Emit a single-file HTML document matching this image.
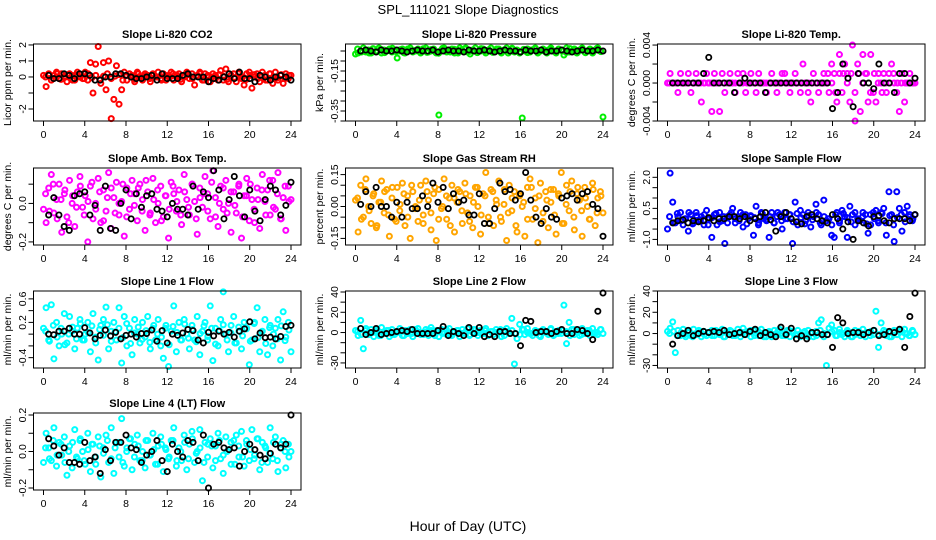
<!DOCTYPE html>
<html><head><meta charset="utf-8">
<style>
body{margin:0;background:#fff;width:936px;height:540px;overflow:hidden}
svg{display:block;font-family:"Liberation Sans",sans-serif}
</style></head>
<body>
<svg id="chart" width="936" height="540" xmlns="http://www.w3.org/2000/svg">
<text x="468" y="14" text-anchor="middle" font-size="13">SPL_111021  Slope Diagnostics</text>
<text x="468" y="531" text-anchor="middle" font-size="14">Hour of Day (UTC)</text>
</svg>
<script>
const xTicks=[0,4,8,12,16,20,24];
const titles=["Slope Li-820 CO2","Slope Li-820 Pressure","Slope Li-820 Temp.","Slope Amb. Box Temp.","Slope Gas Stream RH","Slope Sample Flow","Slope Line 1 Flow","Slope Line 2 Flow","Slope Line 3 Flow","Slope Line 4 (LT) Flow"];
const yTitles=["Licor ppm per min.","kPa per min.","degrees C per min.","degrees C per min.","percent per min.","ml/min per min.","ml/min per min.","ml/min per min.","ml/min per min.","ml/min per min."];
const colors=["#ff0000","#00ee00","#ff00ff","#ff00ff","#ffa500","#0000ff","#00ffff","#00ffff","#00ffff","#00ffff"];
const yTickVals=[[-2,-1,0,1,2],[-0.4,-0.35,-0.3,-0.25,-0.2,-0.15,-0.1,-0.05],[-0.004,-0.002,0,0.002,0.004],[-0.2,-0.1,0,0.1],[-0.15,-0.1,-0.05,0,0.05,0.1,0.15],[-1,-0.5,0,0.5,1,1.5,2],[-0.4,-0.2,0,0.2,0.4,0.6],[-30,-20,-10,0,10,20,30,40],[-30,-20,-10,0,10,20,30,40],[-0.2,-0.1,0,0.1,0.2]];
const yTickLabels=[["-2","","0","1","2"],["","-0.35","","","","-0.15","",""],["-0.004","","0.000","","0.004"],["-0.2","","0.0",""],["-0.15","","","0.00","","","0.15"],["-1.0","","","0.5","","","2.0"],["-0.4","","","0.2","","0.6"],["-30","","","0","","20","","40"],["-30","","","0","","20","","40"],["-0.2","","0.0","","0.2"]];
const yDomains=[[-2.75,2.06],[-0.40,-0.015],[-0.004,0.00411],[-0.216,0.184],[-0.181,0.181],[-1.27,2.45],[-0.576,0.734],[-35,41],[-32.4,40],[-0.211,0.211]];

const c1=[0.1,-0.6,0.2,-0.2,0.1,0.3,-0.1,0.2,0.0,-0.3,0.2,0.1,-0.2,0.3,0.0,-0.1,0.3,-0.2,0.9,-1.0,0.8,1.9,-0.4,0.9,-0.8,1.0,-2.6,-1.4,0.7,-1.7,-0.8,0.3,-0.2,0.2,0.1,-0.3,0.3,0.0,-0.2,0.2,0.1,-0.3,0.2,0.0,0.3,-0.1,0.2,-0.2,0.1,0.3,-0.2,0.0,0.2,-0.3,0.1,0.3,-0.1,0.2,-0.5,0.1,0.3,-0.2,0.2,0.0,-0.3,0.2,0.1,-0.2,0.4,-0.2,0.5,-0.3,0.1,0.2,-0.3,0.3,-0.1,-0.5,0.2,0.3,-0.7,0.0,0.2,-0.3,0.3,0.1,-0.2,0.2,-0.4,0.3,-0.2,0.1,-0.4,0.2,-0.1,0.1];
const d1=[0.0,0.15,-0.1,0.2,-0.15,0.05,0.1,-0.2,0.15,0.0,-0.1,0.2,-0.05,0.1,-0.15,0.05,0.2,-0.1,0.05,0.15,-0.2,0.1,0.0,-0.15,0.2,-0.05,0.1,-0.1,0.15,0.0,-0.2,0.1,-0.05,0.2,0.1,-0.15,0.0,0.15,-0.1,0.05,0.2,-0.2,0.1,0.0,-0.1,0.15,0.05,-0.15,0.1,-0.05,0.2,0.0,-0.15,0.1,0.15,-0.1,0.05,-0.2,0.2,0.0,-0.05,0.15,-0.1,0.1];
const b1=[0.1,-0.1,-0.1,0.2,0.1,-0.1,0.2,0.2,0.1,-0.2,-0.2,0.0,0.0,0.2,0.2,0.1,0.0,-0.1,-0.1,0.0,0.1,-0.2,0.2,-0.1,-0.1,-0.1,0.1,0.2,0.0,0.0,0.0,-0.3,-0.1,-0.2,0.0,0.2,-0.1,0.3,-0.1,-0.1,-0.3,0.1,0.0,-0.2,0.0,0.1,0.0,-0.2];
const c2=[-0.065,-0.06,-0.05,-0.035,-0.055,-0.045,-0.06,-0.04,-0.05,-0.035,-0.06,-0.045,-0.05,-0.04,-0.055,-0.045,-0.085,-0.05,-0.04,-0.06,-0.045,-0.035,-0.055,-0.05,-0.04,-0.06,-0.045,-0.035,-0.055,-0.05,-0.04,-0.06,-0.37,-0.045,-0.035,-0.055,-0.05,-0.04,-0.06,-0.045,-0.035,-0.05,-0.04,-0.055,-0.065,-0.045,-0.035,-0.055,-0.05,-0.04,-0.06,-0.045,-0.035,-0.055,-0.05,-0.04,-0.06,-0.045,-0.035,-0.05,-0.04,-0.055,-0.045,-0.06,-0.385,-0.05,-0.04,-0.055,-0.045,-0.035,-0.06,-0.05,-0.04,-0.055,-0.045,-0.035,-0.05,-0.06,-0.04,-0.045,-0.07,-0.035,-0.055,-0.05,-0.04,-0.06,-0.045,-0.035,-0.055,-0.05,-0.04,-0.06,-0.045,-0.035,-0.05,-0.38];
const d2=[-0.04,-0.055,-0.045,-0.06,-0.038,-0.05,-0.042,-0.058,-0.047,-0.036,-0.053,-0.044,-0.059,-0.04,-0.05,-0.046,-0.052,-0.039,-0.057,-0.043,-0.05,-0.061,-0.037,-0.048,-0.055,-0.041,-0.06,-0.045,-0.035,-0.052,-0.047,-0.058,-0.038,-0.05,-0.044,-0.057,-0.04,-0.053,-0.046,-0.06,-0.036,-0.049,-0.055,-0.042,-0.058,-0.045,-0.037,-0.052,-0.048,-0.06,-0.04,-0.054,-0.043,-0.05,-0.057,-0.038,-0.047,-0.055,-0.041,-0.059,-0.044,-0.05,-0.036,-0.053];
const b2=[-0.05,-0.045,-0.05,-0.055,-0.045,-0.05,-0.05,-0.045,-0.05,-0.055,-0.05,-0.045,-0.05,-0.05,-0.045,-0.055,-0.05,-0.045,-0.05,-0.05,-0.055,-0.045,-0.05,-0.05,-0.045,-0.05,-0.055,-0.05,-0.045,-0.05,-0.05,-0.055,-0.045,-0.05,-0.05,-0.045,-0.055,-0.05,-0.05,-0.045,-0.05,-0.055,-0.05,-0.045,-0.05,-0.05,-0.045,-0.05];
const c3=[0,0.001,0,0,-0.001,0.001,0,0,0.001,-0.001,0,0.001,0,-0.002,0,0.001,0,-0.003,0.001,0,-0.003,0.001,-0.001,0,0.001,0,-0.001,0.001,0,0.001,-0.001,0,0.001,0,-0.001,0.001,0,0,-0.001,0,0.001,0,-0.001,0,0.001,0.001,0,-0.001,0,0.001,0,-0.001,0.002,0,-0.001,-0.002,0.001,0,-0.001,0,0.001,0,-0.001,0.002,0.001,-0.002,0.003,-0.001,0.002,0.001,-0.002,0.004,-0.004,0.002,-0.003,0.003,0.001,-0.002,0.003,-0.001,-0.002,0.001,0,0.001,-0.001,0.001,0.002,0,-0.001,-0.003,0.001,-0.002,0,0.001,0,0];
const d3=[0,0,0,0,0,0,0,0,0,0,0,0,0,0,0,0,0,0,0,0,0,0,0,0,0,0,0,0,0,0,0,0,0,0,0,0,0,0,0,0,0,0.001,0,-0.001,0.001,0.001,0,0.001,-0.001,0.001,0,0.001,-0.001,0.001,0,-0.001,0,0,0.001,0,0,0,0,0];
const b3=[0,0,0,0,0,0,0.001,0.0027,0,0,0,0,-0.001,0,0.0005,0,0,0,-0.001,0,0,0,0,0,0,0,0,0,0,0,0,-0.0027,-0.001,0.002,0.0005,-0.0025,0.001,0,0,-0.0006,0.002,0,0,-0.001,0.001,0.001,0,0.0005];
const c4=[-0.03,-0.1,0.08,0.15,-0.05,0.02,0.1,-0.15,0.05,-0.07,0.12,0.0,-0.12,0.06,0.14,-0.02,0.04,-0.2,0.09,-0.08,0.0,0.13,-0.1,0.07,-0.04,0.16,-0.13,0.03,0.11,-0.06,0.01,-0.17,0.08,-0.03,0.12,0.05,-0.09,0.1,0.02,-0.14,0.06,-0.05,0.13,-0.1,0.0,0.09,-0.07,0.04,-0.18,0.11,0.05,-0.04,0.07,-0.11,0.15,0.02,-0.06,0.1,0.01,-0.16,0.08,-0.02,0.14,0.05,-0.08,0.17,0.03,-0.12,0.09,-0.03,0.12,0.0,-0.15,0.06,-0.05,0.1,-0.18,0.04,0.13,-0.09,0.02,-0.1,0.08,-0.13,0.15,0.01,0.07,-0.06,0.12,-0.03,0.16,-0.08,0.03,-0.14,0.09,0.02];
const d4=[0.05,-0.04,0.1,-0.08,0.02,0.07,-0.1,0.04,-0.02,0.09,-0.06,0.01,0.11,-0.03,0.06,-0.09,0.03,0.08,-0.05,0.0,0.1,-0.07,0.05,-0.01,0.08,-0.04,0.12,-0.06,0.02,0.07,-0.09,0.04,-0.03,0.09,0.01,-0.06,0.06,-0.02,0.1,-0.08,0.03,0.05,-0.04,0.11,-0.07,0.0,0.08,-0.05,0.06,-0.01,0.09,-0.07,0.04,0.1,-0.03,0.02,0.07,-0.06,0.12,-0.02,0.05,-0.08,0.09,0.01];
const b4=[-0.06,0.03,-0.06,-0.12,-0.14,0.04,0.05,0.06,-0.06,-0.01,-0.14,0.09,-0.13,-0.14,0.0,0.07,-0.08,0.05,-0.02,0.04,0.05,-0.03,-0.04,-0.07,0.0,-0.03,-0.03,-0.06,0.09,-0.03,0.06,0.03,0.17,0.07,-0.08,0.02,0.14,0.04,-0.07,0.07,-0.04,-0.09,0.02,0.09,0.07,-0.06,-0.01,0.11];
const c5=[0.03,-0.12,0.1,-0.05,0.13,0.0,-0.08,0.06,-0.1,0.02,0.12,-0.03,0.08,-0.14,0.04,-0.06,0.09,-0.02,0.11,-0.09,0.05,-0.15,0.07,0.0,-0.07,0.1,-0.04,0.12,0.03,-0.11,0.06,-0.16,0.08,-0.01,0.13,-0.06,0.04,0.1,-0.12,0.02,0.07,-0.08,0.11,-0.03,0.05,-0.1,0.09,0.0,-0.13,0.06,0.16,-0.05,0.08,-0.09,0.03,0.12,-0.07,0.01,-0.16,0.1,-0.02,0.07,-0.12,0.05,0.0,-0.14,0.09,0.13,-0.06,0.04,-0.17,0.11,-0.03,0.07,-0.1,0.02,0.08,-0.13,0.05,0.16,-0.08,0.1,-0.02,0.12,-0.11,0.06,0.03,-0.14,0.09,0.0,-0.06,0.11,-0.09,0.04,0.07,-0.03];
const d5=[0.04,-0.06,0.08,-0.02,0.05,-0.09,0.02,0.07,-0.04,0.09,-0.07,0.01,0.06,-0.05,0.1,-0.01,0.03,-0.08,0.07,-0.03,0.09,-0.06,0.0,0.05,-0.09,0.04,0.08,-0.02,0.06,-0.07,0.02,0.09,-0.04,0.05,-0.08,0.07,0.01,-0.05,0.08,-0.03,0.04,-0.09,0.06,0.02,-0.06,0.09,-0.01,0.05,-0.07,0.03,0.08,-0.04,0.06,-0.08,0.01,0.07,-0.05,0.09,-0.02,0.04,-0.06,0.08,-0.03,0.05];
const b5=[0.01,0.07,0.0,0.09,0.0,0.0,-0.05,0.02,-0.05,0.02,-0.01,-0.01,0.05,0.0,0.11,0.02,0.09,-0.01,0.06,0.02,0.03,-0.04,-0.04,0.06,-0.08,-0.08,-0.01,0.11,0.07,0.08,0.03,0.06,0.16,0.03,-0.05,-0.08,-0.01,-0.05,-0.06,0.04,0.05,0.06,0.03,0.06,0.07,0.01,-0.01,-0.14];
const c6=[-0.5,2.2,0.8,-0.2,0.1,0.3,-0.3,0.0,-0.6,0.2,-0.2,0.3,-0.1,0.1,-0.3,0.4,0.0,-0.9,0.2,-0.3,0.3,-0.1,-1.2,0.1,0.2,0.5,-0.2,0.1,0.3,-0.4,0.2,0.0,0.1,-0.8,0.6,-0.2,0.3,0.0,-0.1,-0.9,0.3,-0.2,0.1,0.2,-0.5,0.3,0.0,0.2,-1.2,0.8,-0.3,0.4,0.2,-0.1,0.3,-0.4,0.1,0.7,0.2,-0.3,0.9,-0.1,0.0,-0.8,-0.9,0.3,-0.2,0.4,0.1,-0.9,0.6,0.2,-0.3,0.0,-0.1,0.3,0.2,-0.7,-0.3,0.3,0.4,-0.2,0.3,0.5,-0.8,1.3,0.2,-1.1,1.3,0.5,-0.6,0.3,0.6,0.2,-0.1,0.2];
const d6=[0.1,-0.2,0.25,-0.1,0.0,0.3,-0.25,0.15,-0.05,0.2,-0.3,0.05,0.25,-0.15,0.1,-0.2,0.3,0.0,-0.1,0.2,-0.25,0.15,0.05,-0.3,0.25,-0.05,0.1,-0.2,0.3,-0.1,0.0,0.2,-0.15,0.25,0.05,-0.25,0.15,-0.05,0.3,-0.2,0.1,0.0,-0.3,0.2,-0.1,0.25,0.05,-0.15,0.3,-0.05,0.1,-0.25,0.2,0.0,-0.1,0.25,-0.2,0.15,-0.3,0.05,0.2,-0.15,0.1,0.0];
const b6=[-0.2,-0.1,-0.05,-0.2,-0.1,-0.15,-0.1,0.05,-0.1,0.0,0.0,0.1,0.1,0.0,0.1,-0.1,0.0,0.1,0.3,-0.05,-0.6,0.1,0.3,0.0,-0.15,-0.25,0.1,0.2,0.0,-0.1,-0.2,0.2,0.0,-0.5,-0.15,-1.0,-0.1,-0.2,-0.35,0.1,0.15,-0.1,-0.2,0.0,0.0,0.0,-0.1,0.2];
const c7=[0.1,0.45,-0.1,0.5,-0.42,0.2,-0.2,0.0,0.35,-0.15,0.3,0.05,-0.25,0.1,0.25,-0.1,0.0,0.2,-0.3,0.35,-0.05,-0.44,0.15,0.25,0.46,-0.25,0.05,0.2,-0.1,0.45,-0.49,0.3,-0.2,0.1,-0.35,0.25,0.0,-0.15,0.2,-0.05,0.3,-0.25,0.1,-0.1,0.25,-0.2,-0.41,0.15,-0.55,0.05,0.48,-0.3,0.2,-0.1,0.25,0.0,-0.25,0.15,-0.1,0.3,-0.35,0.05,0.2,-0.1,0.48,-0.45,0.1,-0.2,0.25,0.72,0.0,-0.3,0.15,0.3,-0.15,0.05,-0.25,0.2,0.1,-0.52,-0.1,0.2,0.45,-0.3,0.05,0.25,-0.35,0.15,-0.2,0.1,0.25,-0.44,0.38,-0.05,0.2,-0.3];
const d7=[0.05,-0.12,0.15,-0.05,0.1,-0.18,0.0,0.12,-0.08,0.18,-0.1,0.03,0.14,-0.15,0.08,-0.02,0.16,-0.12,0.04,0.1,-0.06,0.18,-0.16,0.02,0.12,-0.09,0.06,-0.14,0.15,0.0,-0.05,0.1,-0.18,0.13,0.03,-0.1,0.17,-0.07,0.08,-0.13,0.01,0.14,-0.04,0.1,-0.17,0.06,0.16,-0.1,0.02,-0.15,0.12,-0.03,0.09,-0.12,0.18,-0.06,0.04,-0.16,0.11,0.0,-0.08,0.14,-0.11,0.07];
const b7=[0.0,-0.01,0.05,0.05,0.1,0.0,0.0,0.11,0.02,-0.08,-0.02,0.07,-0.03,0.03,-0.08,-0.02,0.0,-0.05,0.01,0.01,0.07,-0.12,0.06,-0.15,0.0,-0.02,0.02,0.08,0.06,-0.1,-0.15,0.03,-0.03,0.05,0.0,0.03,-0.05,0.05,0.09,0.21,-0.08,0.02,-0.06,-0.05,-0.08,-0.04,0.13,0.15];
const c8=[2,-3,12,-16,4,-2,3,-4,1,-3,5,-1,2,-4,3,-2,0,4,-3,2,-1,3,-4,1,4,-2,0,3,-3,5,-1,2,-4,3,0,-2,4,-3,1,2,-4,3,-1,4,-2,0,3,-3,2,-1,4,-3,1,-2,3,0,-4,2,4,-1,14,-31,-6,8,3,-2,4,-1,-3,2,1,-4,3,0,-2,4,-3,1,2,-1,27,-11,10,3,-2,1,-3,4,-1,2,-3,4,0,-2,3,-1];
const d8=[1,-2,2,-1,0,3,-3,1,2,-2,0,1,-3,2,-1,3,0,-2,1,2,-3,1,-1,3,-2,0,2,-1,1,-3,3,0,-1,2,-2,1,0,3,-3,1,2,-1,-2,3,0,-1,2,-3,1,0,3,-2,-1,2,1,-3,3,0,-2,1,2,-1,0,3];
const b8=[4,-2,0,4,-2,-1,0,1,2,1,3,-1,-1,-1,-1,2,6,-3,1,-1,-3,5,-1,5,-4,-2,-4,1,1,-1,-1,-13,12,11,0,1,1,-1,1,3,-1,-1,3,2,-1,-7,21,39];
const c9=[2,5,11,-18,3,-2,4,-3,1,-2,4,-1,3,-3,2,-2,1,3,-2,2,-1,4,-3,1,3,-2,0,4,-3,5,-1,2,-3,3,0,-2,4,-3,1,2,-3,3,-1,4,-2,0,3,-3,2,-1,3,-3,1,-2,3,0,-3,2,10,13,-3,-30,5,8,3,-2,4,-1,-3,2,1,-3,3,0,-2,4,-3,1,2,-1,21,-13,10,3,-2,1,-3,3,-1,2,-3,4,0,-2,3,-1];
const d9=[0,2,-2,1,-1,3,-3,0,2,-1,1,-2,3,0,-3,1,2,-2,0,1,-1,3,-2,2,0,-3,1,-1,2,0,-2,3,1,-1,0,2,-3,1,-2,3,0,-1,2,-2,1,0,3,-3,-1,2,0,1,-2,3,-1,0,2,-3,1,-1,3,0,-2,2];
const b9=[-10,-2,0,3,-2,0,2,1,2,1,3,-1,0,1,-1,2,4,-2,1,-1,-3,6,-1,5,-5,-2,-5,1,1,-1,-1,-13,15,10,0,1,1,-1,1,3,-2,-1,2,1,4,-13,16,38];
const c10=[-0.06,0.1,0.02,-0.05,0.13,-0.08,0.05,-0.02,0.08,-0.13,0.03,-0.09,0.12,-0.04,0.06,0.0,-0.07,0.1,-0.11,0.04,-0.03,0.08,-0.14,0.02,0.09,-0.06,0.13,-0.12,0.05,-0.03,0.18,-0.08,0.02,0.07,-0.1,0.04,0.09,-0.05,0.0,-0.09,0.06,-0.02,0.1,-0.07,0.03,0.08,-0.11,0.01,-0.04,0.06,0.13,-0.08,0.02,-0.05,0.09,-0.1,0.04,0.11,-0.06,0.0,0.12,-0.16,0.05,-0.03,0.07,-0.09,0.03,0.1,-0.04,-0.12,0.08,0.01,-0.07,0.06,0.09,-0.03,0.11,-0.08,0.04,-0.05,0.12,-0.02,0.07,-0.1,0.05,0.03,-0.06,0.13,-0.04,0.08,-0.11,0.02,0.06,-0.09,0.04,0.0];
const d10=[0.02,-0.04,0.06,-0.02,0.04,-0.06,0.0,0.05,-0.03,0.07,-0.05,0.01,0.04,-0.07,0.03,-0.01,0.06,-0.04,0.02,0.05,-0.06,0.0,0.07,-0.03,0.03,-0.05,0.06,-0.02,0.01,-0.07,0.04,0.02,-0.03,0.06,-0.05,0.0,0.05,-0.04,0.07,-0.01,0.02,-0.06,0.04,0.03,-0.05,0.06,-0.02,0.0,0.05,-0.07,0.03,-0.03,0.06,0.01,-0.04,0.07,-0.06,0.02,-0.01,0.05,-0.05,0.04,0.0,-0.03];
const b10=[0.07,0.03,-0.02,0.02,-0.06,-0.06,-0.07,0.05,-0.05,-0.03,-0.12,0.01,-0.05,0.05,0.05,0.09,0.02,0.01,-0.06,-0.02,0.0,0.06,-0.05,-0.11,0.04,0.0,-0.03,0.06,0.05,-0.05,0.09,-0.2,0.04,0.05,0.02,0.01,0.02,-0.08,0.0,0.04,0.01,-0.02,-0.04,-0.01,0.04,0.02,0.04,0.2];

const colorSeries=[c1,c2,c3,c4,c5,c6,c7,c8,c9,c10];
const coreSeries=[d1,d2,d3,d4,d5,d6,d7,d8,d9,d10];
const blackSeries=[b1,b2,b3,b4,b5,b6,b7,b8,b9,b10];

const NS="http://www.w3.org/2000/svg";
const svg=document.getElementById('chart');
function mk(tag,attrs,parent){const e=document.createElementNS(NS,tag);for(const k in attrs)e.setAttribute(k,attrs[k]);(parent||svg).appendChild(e);return e;}
const boxTops=[44,168,291,413];
for(let p=0;p<10;p++){
  const col=p%3,row=Math.floor(p/3),cx=col*312;
  const L=cx+33.5,R=cx+301,T=boxTops[row],B=T+77;
  const x0=cx+43.5,x1=cx+291;
  const xs=h=>x0+(x1-x0)*h/24;
  const dom=yDomains[p];
  const ys=v=>B-(v-dom[0])/(dom[1]-dom[0])*(B-T);
  const g=mk('g',{});
  
  
  const t=mk('text',{x:(L+R)/2,y:T-6,'text-anchor':'middle','font-size':'11','font-weight':'bold'},g);
  
  
  t.textContent=titles[p];
  const yt=mk('text',{x:cx+11,y:(T+B)/2,'text-anchor':'middle','font-size':'10.5',transform:`rotate(-90 ${cx+11} ${(T+B)/2})`},g);
  
  
  yt.textContent=yTitles[p];
  const ds=coreSeries[p];
  ds.forEach((v,i)=>{
    const h=0.2+i*23.6/(ds.length-1);
    const c=mk('circle',{cx:xs(h),cy:ys(v),r:2.5,fill:'none',stroke:colors[p],'stroke-width':2},g);
    
    
  });
  const cs=colorSeries[p];
  cs.forEach((v,i)=>{
    const h=i*24/(cs.length-1);
    const c=mk('circle',{cx:xs(h),cy:ys(v),r:2.5,fill:'none',stroke:colors[p],'stroke-width':2},g);
    
    
  });
  const bs=blackSeries[p];
  bs.forEach((v,i)=>{
    const h=0.5+i*23.5/(bs.length-1);
    const c=mk('circle',{cx:xs(h),cy:ys(v),r:2.6,fill:'none',stroke:'#000','stroke-width':1.8},g);
    
    
  });
  const bx=mk('rect',{x:L,y:T,width:R-L,height:B-T,fill:'none',stroke:'#000','stroke-width':1},g);
  
  
  mk('line',{x1:x0,x2:x1,y1:B,y2:B,stroke:'#000'},g);
  xTicks.forEach(h=>{
    mk('line',{x1:xs(h),x2:xs(h),y1:B,y2:B+5,stroke:'#000'},g);
    const tl=mk('text',{x:xs(h),y:B+17,'text-anchor':'middle','font-size':'10.5'},g);
    
    
    tl.textContent=h;
  });
  const tv=yTickVals[p];
  mk('line',{x1:L,x2:L,y1:ys(tv[0]),y2:ys(tv[tv.length-1]),stroke:'#000'},g);
  tv.forEach((v,i)=>{
    const y=ys(v);
    mk('line',{x1:L-5,x2:L,y1:y,y2:y,stroke:'#000'},g);
    const lab=yTickLabels[p][i];
    if(lab){
      const tl=mk('text',{x:cx+26,y:y,'text-anchor':'middle','font-size':'10.5',transform:`rotate(-90 ${cx+26} ${y})`},g);
      
      
      tl.textContent=lab;
    }
  });
}
</script>
</body></html>
